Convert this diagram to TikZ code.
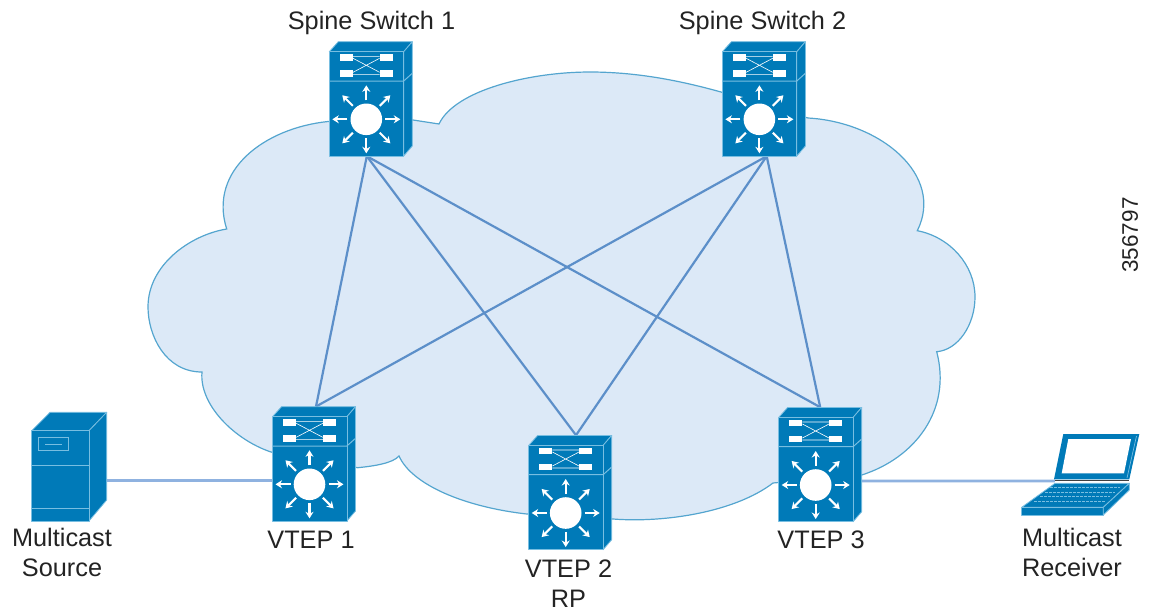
\documentclass[tikz,border=0pt]{standalone}
\usepackage{fontspec}
\setmainfont{Liberation Sans}
\usetikzlibrary{arrows.meta}
\definecolor{cloudfill}{RGB}{220,233,247}
\definecolor{cloudline}{RGB}{84,165,207}
\definecolor{fabriclink}{RGB}{92,143,201}
\definecolor{hostlink}{RGB}{143,178,224}
\definecolor{devblue}{RGB}{0,122,184}
\definecolor{devedge}{RGB}{120,190,225}
\definecolor{labeltext}{RGB}{35,35,35}

\begin{document}
\begin{tikzpicture}[
    x=1pt, y=-1pt,
    switchnode/.style={rectangle, inner sep=0pt, minimum width=83pt, minimum height=114.3pt},
    fabric/.style={fabriclink, line width=2.2pt},
    hostline/.style={hostlink, line width=2.8pt},
    device/.style={fill=devblue, draw=devedge, line width=0.8pt, line join=round},
    label/.style={text=labeltext, align=center, font=\fontsize{25.3}{30}\selectfont, inner sep=0pt},
    switch/.pic={
        \begin{scope}[shift={(-4.5,20.45)}]
        \filldraw[device] (-37,-67.6) -- (-28,-77.6) -- (46,-77.6) -- (37.4,-67.6) -- cycle;
        \filldraw[device] (37.4,-67.6) -- (46,-77.6) -- (46,26.7) -- (37.4,36.7) -- cycle;
        \filldraw[device] (-37,-67.6) rectangle (37.4,36.7);
        \draw[devedge, line width=1pt] (-37,-38.3) -- (37.4,-38.3) -- (46,-46);
        % upper panel
        \fill[white] (-26.7,-65.3) rectangle (-13.3,-58.6);
        \fill[white] (-26.7,-49.3) rectangle (-13.3,-42.6);
        \fill[white] (13.3,-65.3) rectangle (26.7,-58.6);
        \fill[white] (13.3,-49.3) rectangle (26.7,-42.6);
        \draw[white, line width=0.6pt] (-13.3,-63) -- (13.3,-63) (-13.3,-45) -- (13.3,-45)
            (-13.3,-61) -- (13.3,-47) (-13.3,-47) -- (13.3,-61);
        % lower panel
        \fill[white] (0,0) circle (15.8);
        \foreach \a in {0,45,...,315}
            \draw[white, line width=2.1pt, -{Stealth[length=6.5pt,width=8pt]}] (\a:19) -- (\a:34);
        \end{scope}
    },
    server/.pic={
        \begin{scope}[shift={(-69.2,-466.65)}]
        \filldraw[device] (31.7,430.7) -- (50,412.3) -- (106.7,412.3) -- (89,430.7) -- cycle;
        \filldraw[device] (89,430.7) -- (106.7,412.3) -- (106.7,500) -- (89,521) -- cycle;
        \filldraw[device] (31.7,430.7) rectangle (89,521);
        \draw[devedge, line width=1pt] (31.7,465.7) -- (89,465.7) (31.7,508.3) -- (89,508.3);
        \draw[devedge, line width=1pt] (38.3,437.7) rectangle (68.3,450.7) (45,444.3) -- (61.7,444.3);
        \end{scope}
    },
    laptop/.pic={
        \begin{scope}[shift={(-1080.5,-474.5)}]
        \fill[devblue] (1063.3,434) -- (1139.3,434) -- (1129.3,479.3) -- (1054,479.3) -- cycle;
        \fill[white] (1068.3,439) -- (1131,439) -- (1124,473.3) -- (1061.7,473.3) -- cycle;
        \draw[devedge, line width=0.7pt] (1136.5,436) -- (1127,478);
        \draw[black!75, line width=1.2pt] (1054.5,480.5) -- (1129,480.5);
        \filldraw[device] (1055,483.3) -- (1129.3,483.3) -- (1103.3,507.3) -- (1021.7,507.3) -- cycle;
        \filldraw[device] (1021.7,507.3) rectangle (1103.3,515);
        \filldraw[device] (1103.3,507.3) -- (1129.3,483.3) -- (1129.3,490) -- (1103.3,515) -- cycle;
        \foreach \y/\xa/\xb in {487.5/1050/1120, 492/1045/1115, 496.5/1040/1110, 501/1034/1106}
            \draw[devedge, line width=0.6pt, dash pattern=on 3pt off 1pt] (\xa,\y) -- (\xb,\y);
        \end{scope}
    }
]
\useasboundingbox (0,0) rectangle (1152,614);

% Cloud
\filldraw[fill=cloudfill, draw=cloudline, line width=1.2pt]
    (226.7,229) .. controls (208,170) and (265,128) .. (328,121.5)
    -- (413,120) -- (439,124)
    .. controls (455,90) and (530,72) .. (590,72)
    .. controls (640,72) and (685,82) .. (721,92)
    -- (808,118)
    .. controls (880,122) and (945,175) .. (917.3,230.7)
    .. controls (950,237) and (975,265) .. (975,297)
    .. controls (975,325) and (958,350) .. (936.7,351.7)
    .. controls (952,410) and (915,458) .. (861.7,475)
    -- (773,483)
    .. controls (735,512) and (665,523) .. (613,519)
    -- (526.7,514)
    .. controls (465,507) and (412,485) .. (399,456)
    .. controls (393,463) and (375,466) .. (357.7,467.7)
    -- (271,452)
    .. controls (235,440) and (199,405) .. (202,372)
    .. controls (165,372) and (148,335) .. (148,307)
    .. controls (148,265) and (190,235) .. (226.7,229) -- cycle;

% Devices
\node[switchnode] (spine1) at (370.8,98.85) {};
\node[switchnode] (spine2) at (763.9,98.85) {};
\node[switchnode] (vtep1) at (314,463.85) {};
\node[switchnode] (vtep2) at (570.2,492.55) {};
\node[switchnode] (vtep3) at (820.2,464.55) {};
\node[inner sep=0pt, minimum width=75pt, minimum height=108.7pt] (source) at (69.2,466.65) {};
\node[inner sep=0pt, minimum width=117.6pt, minimum height=81pt] (receiver) at (1080.5,474.5) {};

% Links
\draw[fabric] ([xshift=-4pt]spine1.south) -- ([xshift=2pt]vtep1.north);
\draw[fabric] ([xshift=-4pt]spine1.south) -- ([xshift=5.8pt]vtep2.north);
\draw[fabric] ([xshift=-4pt]spine1.south) -- (vtep3.north);
\draw[fabric] ([xshift=2.8pt]spine2.south) -- ([xshift=2pt]vtep1.north);
\draw[fabric] ([xshift=2.8pt]spine2.south) -- ([xshift=5.8pt]vtep2.north);
\draw[fabric] ([xshift=2.8pt]spine2.south) -- (vtep3.north);
\draw[hostline] ([yshift=-13.6pt]source.east) -- ([yshift=-16.4pt]vtep1.west);
\draw[hostline] ([yshift=-16.4pt]vtep3.east) -- ([xshift=33.3pt,yshift=-6.5pt]receiver.west);

\pic at (spine1) {switch};
\pic at (spine2) {switch};
\pic at (vtep1) {switch};
\pic at (vtep2) {switch};
\pic at (vtep3) {switch};
\pic at (source) {server};
\pic at (receiver) {laptop};

% Labels
\node[label] (spine1 text) at (371.5,23) {Spine Switch 1};
\node[label] (spine2 text) at (762.5,23) {Spine Switch 2};
\node[label] (source text) at (62,552) {Multicast\\Source};
\node[label] (vtep1 text) at (311,540) {VTEP 1};
\node[label] (vtep2 text) at (568.5,584) {VTEP 2\\RP};
\node[label] (vtep3 text) at (821,540) {VTEP 3};
\node[label] (receiver text) at (1072,552) {Multicast\\Receiver};
\node[text=labeltext, inner sep=0pt, rotate=90, font=\fontsize{22.5}{26}\selectfont] (figure id) at (1130,235) {356797};
\end{tikzpicture}
\end{document}
